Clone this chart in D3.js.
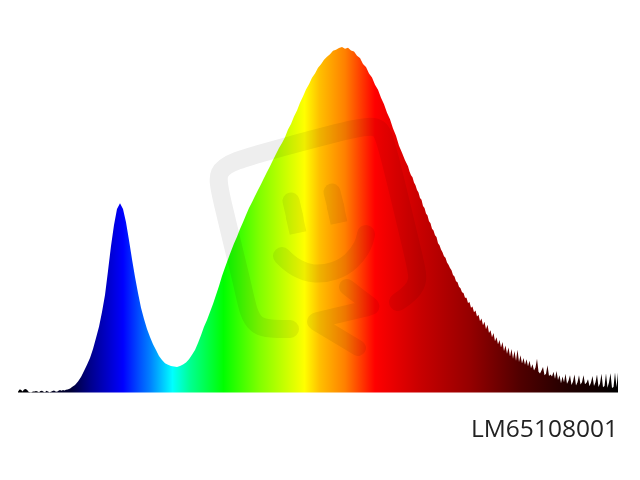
<!DOCTYPE html>
<html><head><meta charset="utf-8">
<script src="https://cdn.jsdelivr.net/npm/d3@7/dist/d3.min.js"></script>
<style>html,body{margin:0;padding:0;background:#fff}svg{display:block}</style>
</head><body><svg id="c" width="640" height="480"></svg>
<script>
// relative intensity
const startNm = 380, endNm = 780;
const noiseValues = [0.2,0.9,0.8,0.3,0.9,1.0,0.8,0.2,0.1,0.1,0.3,0.3,0.4,0.3,0.1,0.4,0.5,0.2,0.1,0.5,0.3,0.1,0.2,0.4,0.6,0.3,0.2,0.5,0.7,0.5,0.7,0.6,0.8,0.9,1.0,1.2,1.6,1.9,2.2,2.7]; // 380-419 nm, 1 nm step
const bodyValues = [3.2,4.5,6.2,8.0,10.0,12.6,15.8,19.0,23.3,28.2,35.2,42.4,48.5,53.1,54.8,53.1,49.3,44.1,38.6,33.4,28.8,24.5,21.3,18.4,16.1,14.0,12.3,10.6,9.4,8.5,8.0,7.7,7.5,7.4,7.7,8.1,8.7,9.6,10.9,12.3,14.3,16.6,19,21,23.3,25.6,28.2,30.8,33.7,36.2,38.6,40.9,43.1,45.1,47.3,49.3,51.4,53.4,55.1,56.9,58.6,60.3,62.1,63.8,65.5,67.3,69,70.8,72.2,73.9,76.1,77.7,79.9,81.6,83.9,85.7,87.7,89.2,91.1,92.3,94.0,95.0,96.3,97.2,97.9,98.9,99.2,99.7,100,99.5,99.8,99.0,98.7,97.5,96.8,95.1,94.2,92.3,91.2,89.1,87.6,85.3,83.4,81.0,79.1,76.4,74.3,71.4,69.4,67.2,65.5]; // 420-640 nm, 2 nm step
const tailValues = [64.0,62.9,62.3,60.8,60.0,58.6,57.9,56.3,55.8,54.0,53.4,51.8,51.2,49.6,49.0,47.4,46.9,45.5,45.0,43.2,42.6,41.4,40.6,39.4,39.0,37.6,37.0,36.0,35.4,34.0,33.6,32.2,31.9,30.6,30.2,29.0,28.8,27.4,27.4,25.9,26.2,24.5,24.9,23.2,23.7,22.0,22.5,20.6,21.4,19.5,20.5,18.3,19.6,17.2,18.0,16.0,17.2,14.8,16.0,14.0,15.2,13.0,14.6,12.0,13.6,11.2,13.0,10.4,12.6,9.8,12.0,9.2,12.4,8.8,10.8,8.4,10.0,8.0,9.6,7.6,9.2,7.0,8.2,6.4,7.2,9.8,6.0,5.5,6.4,7.4,5.0,5.4,7.9,4.8,5.2,4.6,6.0,4.0,6.2,3.6,5.0,2.7,4.6,3.0,5.4,2.5,3.4,5.0,2.2,3.2,5.2,2.0,3.0,5.0,2.3,3.0,5.0,2.4,2.8,3.8,1.8,2.9,4.8,1.9,3.0,5.2,1.6,2.6,5.4,1.5,1.9,5.5,1.4,3.0,5.6,1.3,1.6,5.8,1.5,5.8]; // 641-780 nm, 1 nm step
const stopNm = [380,395,415,428,435,450,461,468,483,495,517,541,571,581,598,608,618,648,681,715,748,765,780];
const stopColors = ["#000000","#000010","#000035","#00008a","#0000b0","#0000ff","#0050ff","#0080ff","#00ffff","#00ff90","#00ff00","#80ff00","#ffff00","#ffc000","#ff8000","#ff4000","#ff0000","#c80000","#960000","#500000","#200000","#100000","#000000"];
const productCode = "LM65108001";

const spectrum = [
  ...noiseValues.map((v,i)=>[startNm+i,v]),
  ...bodyValues.map((v,i)=>[420+2*i,v]),
  ...tailValues.map((v,i)=>[641+i,v])
];

const svg = d3.select("#c");
const x = d3.scaleLinear().domain([startNm,endNm]).range([18,618]);
const y = d3.scaleLinear().domain([0,100]).range([392.5,47]);

const grad = svg.append("defs").append("linearGradient")
  .attr("id","spec").attr("gradientUnits","userSpaceOnUse")
  .attr("x1",x(startNm)).attr("x2",x(endNm)).attr("y1",0).attr("y2",0);
grad.selectAll("stop").data(stopNm).join("stop")
  .attr("offset",d=>(d-startNm)/(endNm-startNm))
  .attr("stop-color",(d,i)=>stopColors[i]);

svg.append("path").datum(spectrum)
  .attr("fill","url(#spec)")
  .attr("d",d3.area().x(d=>x(d[0])).y0(y(0)).y1(d=>y(d[1])));

// faint logo watermark over the chart
const logoStrokes = [
  {w:18,cap:"round",pts:[[290,329],[270,329],[256,326],[248,312],[244,290],[219,190],[217,172],[232,161],[280,148],[365,125],[380,127],[386,140],[415,262],[419,280],[412,292],[398,302]]},
  {w:17,cap:"butt",pts:[[298,233],[294,215]]},
  {w:17,cap:"round",pts:[[295,218],[291,201]]},
  {w:17,cap:"butt",pts:[[339,223],[335,205]]},
  {w:17,cap:"round",pts:[[336,208],[332,192]]},
  {w:18,cap:"round",pts:[[282,256],[288,262],[296,268],[312,275],[335,272],[352,262],[364,245],[366,234]]},
  {w:16,cap:"round",pts:[[347,287],[373,307],[373,307],[313,321],[313,321],[358,348]]}
];
const logoLine = d3.line().curve(d3.curveBasis);
svg.append("g").style("mix-blend-mode","multiply")
  .selectAll("path").data(logoStrokes).join("path")
  .attr("fill","none").attr("stroke","#eeeeee")
  .attr("stroke-linecap",d=>d.cap).attr("stroke-linejoin","round")
  .attr("stroke-width",d=>d.w).attr("d",d=>logoLine(d.pts));

svg.append("text").text(productCode)
  .attr("x",471).attr("y",437)
  .attr("textLength",147).attr("lengthAdjust","spacingAndGlyphs")
  .attr("font-family","'Open Sans',sans-serif").attr("font-size",24)
  .attr("fill","#222");
</script></body></html>
